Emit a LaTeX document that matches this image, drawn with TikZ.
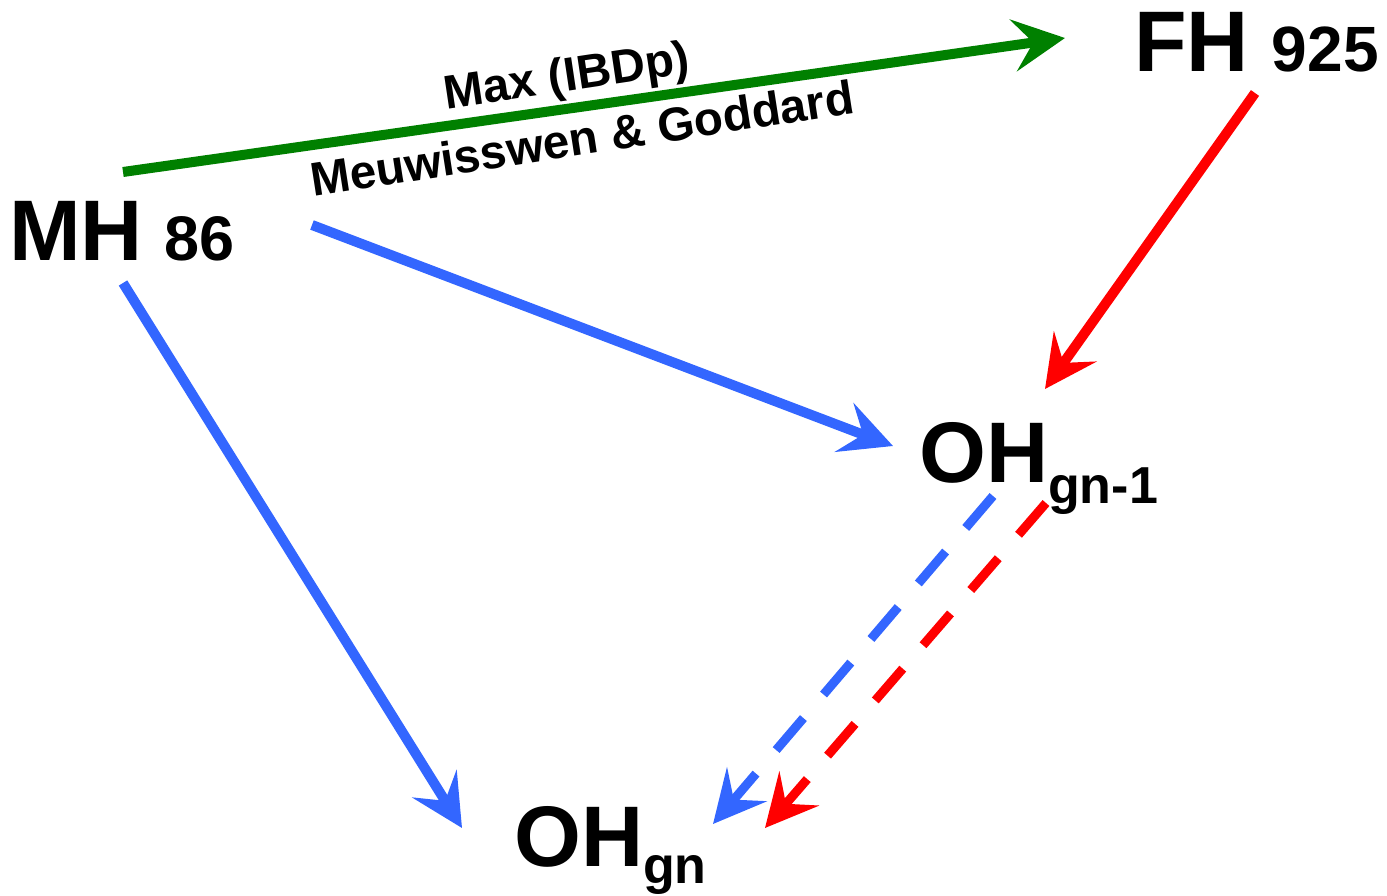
\documentclass[tikz,border=0pt]{standalone}
\usepackage{fontspec}
\setmainfont{Liberation Sans}
\usetikzlibrary{arrows.meta}
\definecolor{cgreen}{RGB}{0,128,0}
\definecolor{cblue}{RGB}{51,102,255}
\definecolor{cred}{RGB}{255,0,0}
\tikzset{
  lbl/.style={inner sep=0pt, anchor=base west, font=\bfseries},
  conn/.style={line width=10pt, -{Stealth[length=52pt,width=52pt,inset=20pt]}},
  dashconn/.style={conn, line width=9pt, dash pattern=on 42pt off 31pt},
  edgetxt/.style={inner sep=0pt, font=\bfseries\fontsize{47.5}{47.5}\selectfont}
}
\begin{document}
\begin{tikzpicture}[x=1pt,y=-1pt]
\useasboundingbox (0,0) rectangle (1387,896);
% nodes
\node[lbl] (mh) at (9,261) {\fontsize{86}{86}\selectfont MH\hspace{22pt}\fontsize{63}{63}\selectfont 86};
\node[lbl] (fh) at (1134,72) {\fontsize{86}{86}\selectfont FH\hspace{23pt}\fontsize{64}{64}\selectfont 925};
\node[lbl] (ohA) at (919,482) {\fontsize{86}{86}\selectfont OH\raisebox{-21pt}{\fontsize{52}{52}\selectfont gn-1}};
\node[lbl] (ohB) at (514,866) {\fontsize{86}{86}\selectfont OH\raisebox{-17pt}{\fontsize{52}{52}\selectfont gn}};
% connector end points
\coordinate (mhR) at (123,172);
\coordinate (fhL) at (1065,38);
\coordinate (mhE) at (312,225);
\coordinate (ohAw) at (893,446);
\coordinate (mhS) at (123,283);
\coordinate (ohBn) at (462,828);
\coordinate (fhS) at (1255,93);
\coordinate (ohAn) at (1045,389);
\coordinate (ohAb) at (993,496);
\coordinate (ohBb) at (713,824);
\coordinate (ohAr) at (1046,503);
\coordinate (ohBr) at (765,828);
% connectors
\draw[conn, cgreen] (mhR) -- (fhL);
\draw[conn, cblue] (mhE) -- (ohAw);
\draw[conn, cblue] (mhS) -- (ohBn);
\draw[conn, cred] (fhS) -- (ohAn);
\draw[dashconn, cblue] (ohAb) -- (ohBb);
\draw[dashconn, cred] (ohAr) -- (ohBr);
% edge labels
\node[edgetxt, rotate=8.5] (lmax) at (567,79) {Max (IBDp)};
\node[edgetxt, rotate=8.8] (lmeu) at (582,138) {Meuwisswen \& Goddard};
\end{tikzpicture}
\end{document}
